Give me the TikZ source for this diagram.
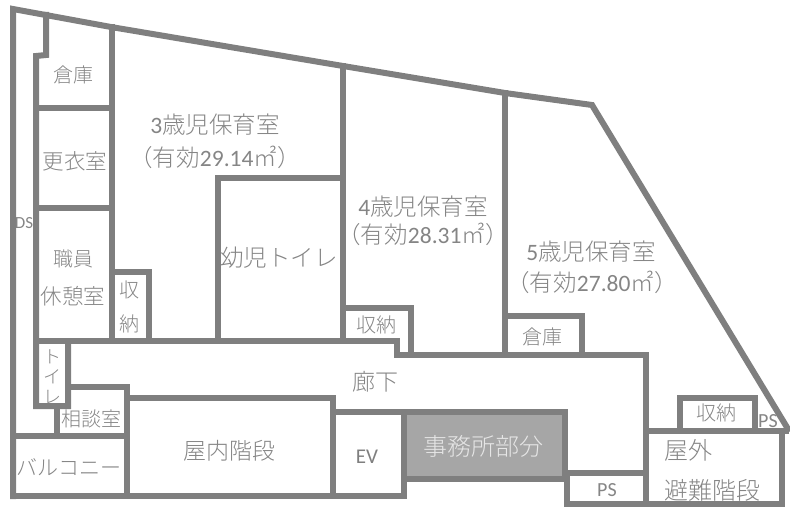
\documentclass[tikz,border=0pt]{standalone}
\usepackage{fontspec}
\setmainfont{Carlito}
\newfontfamily\cjf{Noto Sans CJK JP Light}
\newcommand{\cj}[1]{{\cjf #1}}
\definecolor{wallc}{HTML}{7F7F7F}
\definecolor{labc}{HTML}{858585}
\definecolor{officec}{HTML}{A6A6A6}
\definecolor{officet}{HTML}{E6E6E6}
\tikzset{
  wall/.style={draw=wallc,line width=6pt,line cap=rect,line join=miter},
  lab/.style={text=labc,inner sep=0pt,font=\fontsize{#1}{#1}\selectfont},
  lab/.default=20,
}
\begin{document}
\begin{tikzpicture}[x=1pt,y=-1pt]
\useasboundingbox (0,0) rectangle (790,508);
% labels clipped by walls
\node[lab=17] (ds) at (24,223) {DS};
\node[lab=18] (t1) at (52,357) {\cj{ト}};
\node[lab=18] (t2) at (52,377) {\cj{イ}};
\node[lab=18] (t3) at (52,397) {\cj{レ}};
% office block
\fill[officec] (404,412) rectangle (565,479);
% outer walls
\draw[wall] (13,496) -- (13,9) -- (111,27) -- (343,66) -- (505,93) -- (592,105) -- (788,429);
\draw[wall] (46,15) -- (46,55) -- (36,56) -- (36,406) -- (68,406) -- (68,341);
\draw[wall] (36,108) -- (112,108);
\draw[wall] (36,208) -- (112,208);
\draw[wall] (112,27) -- (112,341);
\draw[wall] (36,341) -- (397,341) -- (397,355) -- (646,355) -- (646,504);
\draw[wall] (113,272) -- (149,272) -- (149,341);
\draw[wall] (218,341) -- (218,178) -- (343,178);
\draw[wall] (343,66) -- (343,341);
\draw[wall] (343,308) -- (411,308) -- (411,355);
\draw[wall] (505,93) -- (505,355);
\draw[wall] (505,316) -- (582,316) -- (582,355);
% lower left
\draw[wall] (57,406) -- (57,436);
\draw[wall] (68,387) -- (127,387) -- (127,496);
\draw[wall] (13,436) -- (127,436);
\draw[wall] (13,496) -- (333,496);
\draw[wall] (127,398) -- (333,398) -- (333,496);
\draw[wall] (333,412) -- (565,412) -- (565,479) -- (404,479);
\draw[wall] (404,412) -- (404,496) -- (333,496);
% lower right
\draw[wall] (567,473) -- (646,473);
\draw[wall] (567,479) -- (567,504) -- (782,504) -- (782,431);
\draw[wall] (646,431) -- (786,431);
\draw[wall] (680,431) -- (680,398) -- (755,398) -- (755,431);
% labels
\node[lab] (soko1) at (73,75) {\cj{倉庫}};
\node[lab=21.5] (kotsu) at (75,161) {\cj{更衣室}};
\node[lab] (shoku) at (73,259) {\cj{職員}};
\node[lab=21.5] (kyu) at (73,296) {\cj{休憩室}};
\node[lab] (shu1) at (129,290) {\cj{収}};
\node[lab] (no1) at (129,324) {\cj{納}};
\node[lab=23.5] (r3) at (215,125) {3\cj{歳児保育室}};
\node[lab=23.5] (a3) at (215,157) {\cj{（有効}29.14\cj{㎡}\cj{）}};
\node[lab=23.5] (toilet) at (279,258) {\cj{幼児トイレ}};
\node[lab=23.5] (r4) at (423,207) {4\cj{歳児保育室}};
\node[lab=23.5] (a4) at (423,234) {\cj{（有効}28.31\cj{㎡}\cj{）}};
\node[lab=23.5] (r5) at (591,252) {5\cj{歳児保育室}};
\node[lab=23.5] (a5) at (592,282) {\cj{（有効}27.80\cj{㎡}\cj{）}};
\node[lab] (shu2) at (376,325) {\cj{収納}};
\node[lab] (soko2) at (542,337) {\cj{倉庫}};
\node[lab=23] (roka) at (375,382) {\cj{廊下}};
\node[lab=24,text=officet] (jimu) at (483,446) {\cj{事務所部分}};
\node[lab=21,text=wallc] (ev) at (367,457) {EV};
\node[lab=23] (kainai) at (229,451) {\cj{屋内階段}};
\node[lab] (sodan) at (91,419) {\cj{相談室}};
\node[lab=21] (balc) at (69,467) {\cj{バルコニー}};
\node[lab] (shu3) at (716,413) {\cj{収納}};
\node[lab=20] (ps1) at (768,421) {PS};
\node[lab=20] (ps2) at (607,490) {PS};
\node[lab=24] (ogai) at (688,450) {\cj{屋外}};
\node[lab=24] (hinan) at (712,490) {\cj{避難階段}};
\end{tikzpicture}
\end{document}
